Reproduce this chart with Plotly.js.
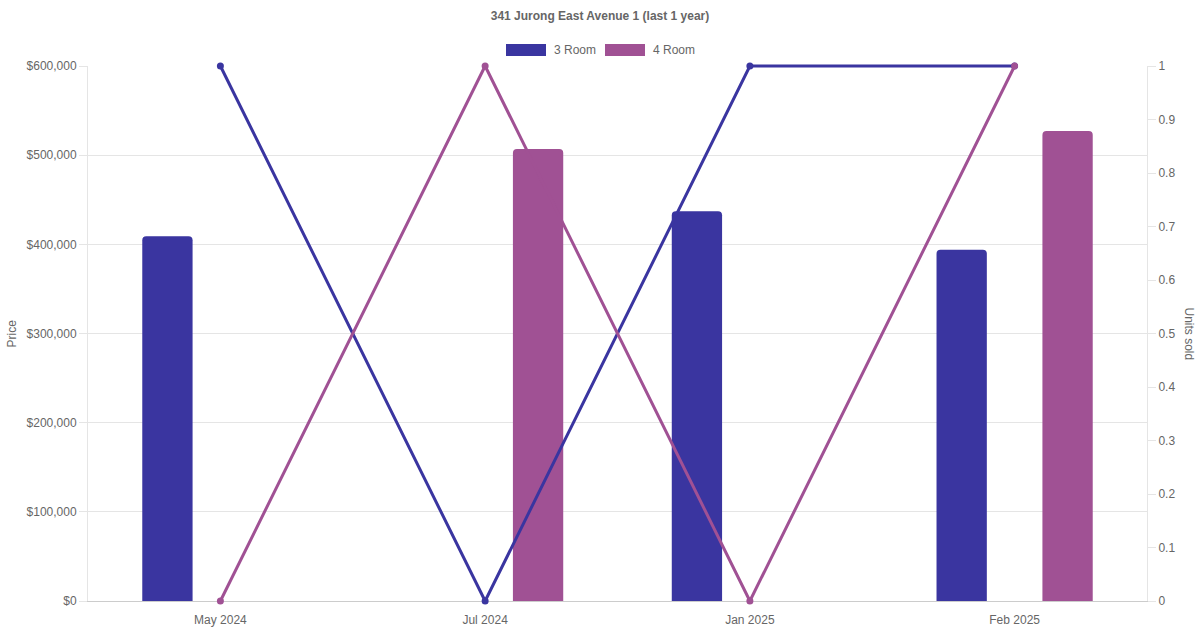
<!DOCTYPE html>
<html>
<head>
<meta charset="utf-8">
<script src="https://cdn.plot.ly/plotly-3.0.1.min.js"></script>
<style>html,body{margin:0;padding:0;background:#fff;}#chart{width:1200px;height:630px;}</style>
</head>
<body>
<div id="chart"></div>
<script>
const categories = ["May 2024", "Jul 2024", "Jan 2025", "Feb 2025"];
const price3Room = [409000, null, 437000, 394000];
const price4Room = [null, 507000, null, 527000];
const units3Room = [1, 0, 1, 1];
const units4Room = [0, 1, 0, 1];
const seriesNames = ["3 Room", "4 Room"];
const chartTitle = "341 Jurong East Avenue 1 (last 1 year)";

const C3 = "#3a35a0";
const C4 = "#a05194";
const FONT = "Liberation Sans, Arial, sans-serif";
const W = 1200, H = 630, L = 88, R = 1147;
const PT = 66, PB = 601;          // visible plot area
const EXT = 4;                     // extra room so the lines are not clipped
const T = PT - EXT, B = PB + EXT;  // paper area
const px = x => (x - L) / (R - L);
const py = y => (B - y) / (B - T);
const d0 = EXT / (B - T), d1 = 1 - EXT / (B - T);
const unitPad = EXT / (PB - PT);

const traces = [
  {type: "bar", x: categories, y: price3Room, name: seriesNames[0], marker: {color: C3, cornerradius: 4},
   width: 0.19, offset: -0.295, xaxis: "x", yaxis: "y", showlegend: false},
  {type: "bar", x: categories, y: price4Room, name: seriesNames[1], marker: {color: C4, cornerradius: 4},
   width: 0.19, offset: 0.105, xaxis: "x", yaxis: "y", showlegend: false},
  // carries the right-hand "Units sold" axis (draws nothing itself)
  {type: "scatter", mode: "none", x: categories, y: units3Room, xaxis: "x", yaxis: "y2",
   showlegend: false, hoverinfo: "skip"},
  {type: "scatter", mode: "lines+markers", x: categories, y: units3Room, name: seriesNames[0],
   xaxis: "x2", yaxis: "y3",
   line: {color: C3, width: 3}, marker: {color: C3, size: 7}, showlegend: false, cliponaxis: false},
  {type: "scatter", mode: "lines+markers", x: categories, y: units4Room, name: seriesNames[1],
   xaxis: "x2", yaxis: "y3",
   line: {color: C4, width: 3}, marker: {color: C4, size: 7}, showlegend: false, cliponaxis: false}
];

const tf = {family: FONT, size: 12, color: "#666"};
const layout = {
  width: W, height: H,
  margin: {l: L, r: W - R, t: T, b: H - B, pad: 0},
  paper_bgcolor: "#fff", plot_bgcolor: "rgba(0,0,0,0)",
  font: tf,
  title: {text: "<b>" + chartTitle + "</b>", font: tf,
          x: 0.5, xref: "container", xanchor: "center", y: 1 - 16 / H, yref: "container", yanchor: "middle"},
  showlegend: false,
  barmode: "overlay",
  xaxis: {type: "category", range: [-0.5, 3.5], domain: [0, 1], anchor: "y", showgrid: false, zeroline: false,
          showline: true, linecolor: "#cccccc", linewidth: 1,
          ticks: "outside", ticklen: 8, tickcolor: "rgba(0,0,0,0)", tickfont: tf, fixedrange: true},
  yaxis: {domain: [d0, d1], anchor: "x", range: [0, 600000], dtick: 100000, tick0: 0, tickprefix: "$", tickformat: ",",
          showgrid: true, gridcolor: "#e5e5e5", gridwidth: 1, zeroline: false,
          showline: true, linecolor: "#e5e5e5", ticks: "outside", ticklen: 8, tickcolor: "#e5e5e5",
          tickfont: tf, fixedrange: true},
  yaxis2: {overlaying: "y", side: "right", anchor: "x", range: [0, 1], dtick: 0.1, tick0: 0,
           showgrid: false, zeroline: false, showline: true, linecolor: "#e5e5e5",
           ticks: "outside", ticklen: 8, tickcolor: "#e5e5e5", tickfont: tf, fixedrange: true},
  xaxis2: {type: "category", range: [-0.5, 3.5], domain: [0, 1], anchor: "y3", visible: false,
           showgrid: false, zeroline: false, fixedrange: true},
  yaxis3: {domain: [0, 1], anchor: "x2", range: [-unitPad, 1 + unitPad], visible: false,
           showgrid: false, zeroline: false, fixedrange: true},
  shapes: [
    {type: "rect", xref: "paper", yref: "paper", x0: px(506), x1: px(546), y0: py(56), y1: py(44),
     fillcolor: C3, line: {width: 0}},
    {type: "rect", xref: "paper", yref: "paper", x0: px(605), x1: px(645), y0: py(56), y1: py(44),
     fillcolor: C4, line: {width: 0}}
  ],
  annotations: [
    {xref: "paper", yref: "paper", x: px(552), y: py(50), xanchor: "left", yanchor: "middle",
     text: seriesNames[0], showarrow: false, font: tf},
    {xref: "paper", yref: "paper", x: px(651), y: py(50), xanchor: "left", yanchor: "middle",
     text: seriesNames[1], showarrow: false, font: tf},
    {xref: "paper", yref: "paper", x: px(11), y: py((PT + PB) / 2), xanchor: "center", yanchor: "middle",
     text: "Price", textangle: -90, showarrow: false, font: tf},
    {xref: "paper", yref: "paper", x: px(1189), y: py((PT + PB) / 2), xanchor: "center", yanchor: "middle",
     text: "Units sold", textangle: 90, showarrow: false, font: tf}
  ]
};

Plotly.newPlot("chart", traces, layout, {displayModeBar: false, staticPlot: true});
</script>
</body>
</html>
